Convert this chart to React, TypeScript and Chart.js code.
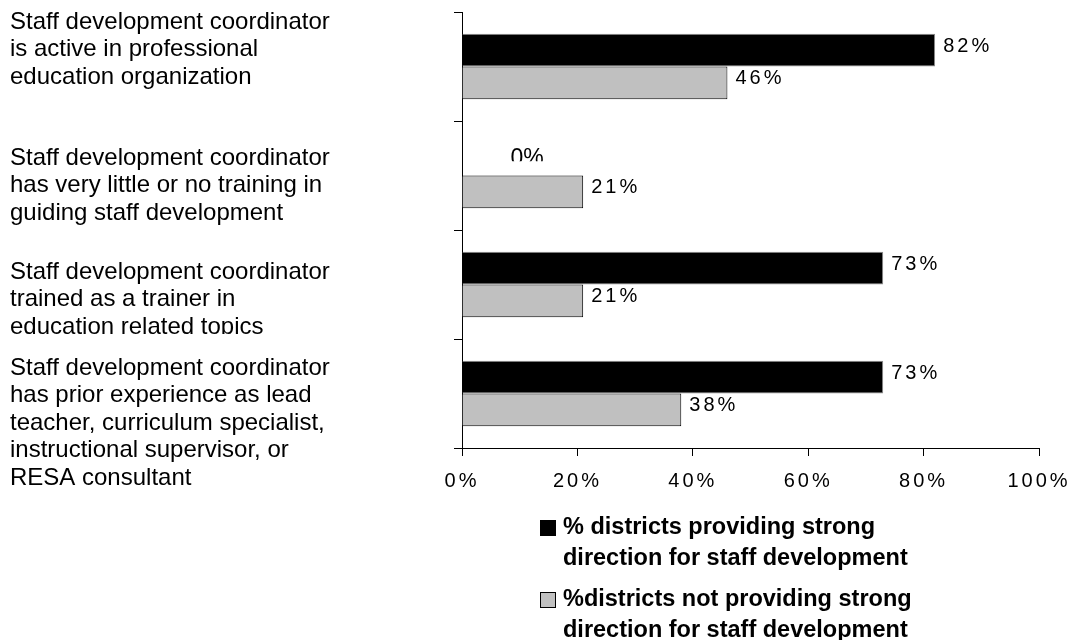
import React, { useEffect, useRef } from "react";
import { Chart, registerables } from "chart.js";

Chart.register(...registerables);

// Category descriptions, one array of text lines per bar group
const categories: string[][] = [
  ["Staff development coordinator", "is active in professional", "education organization"],
  ["Staff development coordinator", "has very little or no training in", "guiding staff development"],
  ["Staff development coordinator", "trained as a trainer in", "education related topics"],
  [
    "Staff development coordinator",
    "has prior experience as lead",
    "teacher, curriculum specialist,",
    "instructional supervisor, or",
    "RESA consultant",
  ],
];

// Percent of districts per category
const strongDirection: number[] = [82, 0, 73, 73];
const notStrongDirection: number[] = [46, 21, 21, 38];

// Series names, split into the lines shown in the legend
const seriesNames: string[][] = [
  ["% districts providing strong", "direction for staff development"],
  ["%districts not providing strong", "direction for staff development"],
];

const xTickValues: number[] = [0, 20, 40, 60, 80, 100];

const FONT = '"Liberation Sans", Arial, Helvetica, sans-serif';

// Where each category text block starts relative to its group centre (px),
// and an optional clip edge below the group centre.
const categoryTextLayout = [
  { shift: -44.5, clip: null as number | null },
  { shift: -17.5, clip: null as number | null },
  { shift: -12.5, clip: 49.5 as number | null },
  { shift: -25.5, clip: null as number | null },
];

const valueLabelsPlugin = {
  id: "valueLabels",
  afterDatasetsDraw(chart: any) {
    const ctx: CanvasRenderingContext2D = chart.ctx;
    const xScale = chart.scales.x;
    chart.data.datasets.forEach((ds: any, di: number) => {
      const meta = chart.getDatasetMeta(di);
      meta.data.forEach((bar: any, i: number) => {
        const v = ds.data[i] as number;
        ctx.save();
        ctx.fillStyle = "#000";
        if (v > 0) {
          (ctx as any).letterSpacing = "3px";
          ctx.font = `20px ${FONT}`;
          ctx.textAlign = "left";
          ctx.textBaseline = "middle";
          ctx.fillText(`${v}%`, bar.x + 8, bar.y - 4);
        } else {
          // zero-length bar: label sits to the right of the axis, cut off at its lower edge
          (ctx as any).letterSpacing = "0px";
          ctx.font = `23px ${FONT}`;
          ctx.textAlign = "center";
          ctx.textBaseline = "alphabetic";
          ctx.beginPath();
          ctx.rect(xScale.left, bar.y - 40, 200, 42);
          ctx.clip();
          ctx.fillText(`${v}%`, xScale.getPixelForValue(v) + 65, bar.y + 6);
        }
        ctx.restore();
      });
    });
  },
};

const spacingPlugin = {
  id: "tickSpacing",
  beforeDraw(chart: any) {
    (chart.ctx as any).letterSpacing = "3px";
  },
  afterDraw(chart: any) {
    (chart.ctx as any).letterSpacing = "0px";
  },
};

const categoryTextPlugin = {
  id: "categoryText",
  afterDraw(chart: any) {
    const ctx: CanvasRenderingContext2D = chart.ctx;
    const yScale = chart.scales.y;
    categories.forEach((lines, i) => {
      const cy = yScale.getPixelForValue(i);
      const lay = categoryTextLayout[i];
      ctx.save();
      (ctx as any).letterSpacing = "0px";
      if (lay.clip !== null) {
        ctx.beginPath();
        ctx.rect(0, 0, yScale.left, cy + lay.clip);
        ctx.clip();
      }
      ctx.font = `24px ${FONT}`;
      ctx.fillStyle = "#000";
      ctx.textAlign = "left";
      ctx.textBaseline = "middle";
      lines.forEach((line, j) => {
        ctx.fillText(line, 10, cy + lay.shift + j * 27.5);
      });
      ctx.restore();
    });
  },
};

const legendPlugin = {
  id: "stackedLegend",
  afterDraw(chart: any) {
    const ctx: CanvasRenderingContext2D = chart.ctx;
    const area = chart.chartArea;
    const left = area.left + 78;
    const tops = [area.bottom + 72, area.bottom + 144];
    chart.data.datasets.forEach((ds: any, di: number) => {
      const top = tops[di];
      ctx.save();
      (ctx as any).letterSpacing = "0px";
      ctx.fillStyle = ds.backgroundColor;
      ctx.fillRect(left, top, 16, 16);
      ctx.strokeStyle = "#000";
      ctx.lineWidth = 1;
      ctx.strokeRect(left + 0.5, top + 0.5, 15, 15);
      ctx.font = `bold 23.5px ${FONT}`;
      ctx.fillStyle = "#000";
      ctx.textAlign = "left";
      ctx.textBaseline = "middle";
      seriesNames[di].forEach((line, j) => {
        ctx.fillText(line, left + 23, top + 8 + j * 31);
      });
      ctx.restore();
    });
  },
};

export default function App() {
  const canvasRef = useRef<HTMLCanvasElement | null>(null);

  useEffect(() => {
    if (!canvasRef.current) return;
    const chart = new Chart(canvasRef.current, {
      type: "bar",
      data: {
        labels: categories.map((c) => c.join(" ")),
        datasets: [
          {
            label: seriesNames[0].join(" "),
            data: strongDirection,
            backgroundColor: "#000000",
            borderColor: "#8a8a8a",
            borderWidth: 1,
            categoryPercentage: 0.6,
            barPercentage: 1.0,
          },
          {
            label: seriesNames[1].join(" "),
            data: notStrongDirection,
            backgroundColor: "#c0c0c0",
            borderColor: "#000000",
            borderWidth: 1,
            categoryPercentage: 0.6,
            barPercentage: 1.0,
          },
        ],
      },
      options: {
        indexAxis: "y",
        animation: false,
        responsive: true,
        maintainAspectRatio: false,
        devicePixelRatio: 1,
        layout: { padding: { left: 452, right: 31, top: 12, bottom: 142 } },
        plugins: {
          legend: { display: false },
          tooltip: { enabled: false },
        },
        scales: {
          x: {
            type: "linear",
            min: 0,
            max: 100,
            afterBuildTicks: (scale: any) => {
              scale.ticks = xTickValues.map((v) => ({ value: v }));
            },
            afterFit: (scale: any) => {
              scale.height = 50;
              scale.paddingLeft = 0;
              scale.paddingRight = 0;
            },
            ticks: {
              callback: (v: any) => `${v}%`,
              color: "#000",
              font: { family: FONT, size: 20 },
              padding: 13,
              maxRotation: 0,
            },
            grid: {
              drawOnChartArea: false,
              drawTicks: true,
              tickLength: 8,
              color: "#000",
              lineWidth: 1,
            },
            border: { color: "#000", width: 1 },
          },
          y: {
            type: "category",
            offset: true,
            afterFit: (scale: any) => {
              scale.width = 10;
              scale.paddingTop = 0;
              scale.paddingBottom = 0;
            },
            ticks: { display: false },
            grid: {
              offset: true,
              drawOnChartArea: false,
              drawTicks: true,
              tickLength: 8,
              color: "#000",
              lineWidth: 1,
            },
            border: { color: "#000", width: 1 },
          },
        },
      },
      plugins: [spacingPlugin, valueLabelsPlugin, categoryTextPlugin, legendPlugin],
    } as any);
    return () => chart.destroy();
  }, []);

  return (
    <div style={{ position: "fixed", left: 0, top: 0, width: 1070, height: 640, background: "#fff" }}>
      <canvas ref={canvasRef} />
    </div>
  );
}
